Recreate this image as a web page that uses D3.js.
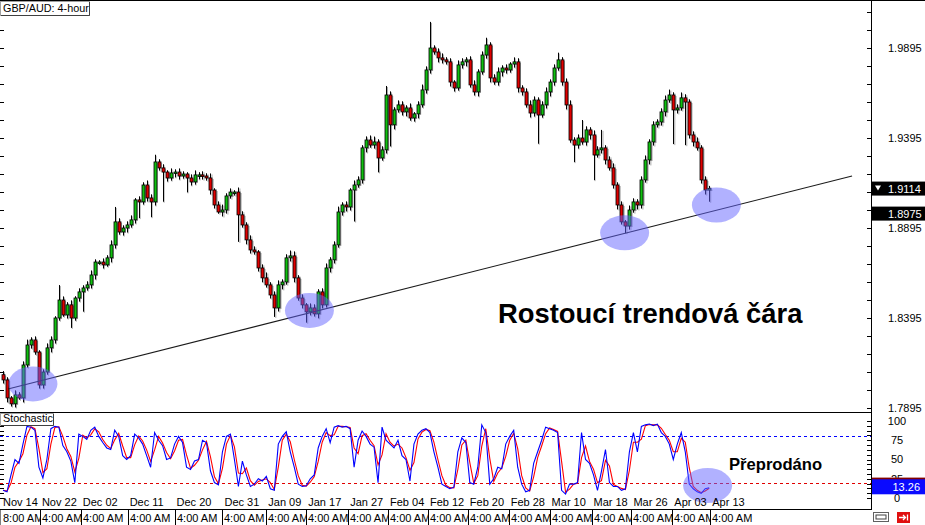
<!DOCTYPE html>
<html><head><meta charset="utf-8">
<script src="https://cdn.jsdelivr.net/npm/d3@7"></script>
<style>
body{margin:0;background:#fff;}
svg{display:block;font-family:"Liberation Sans",Arial,sans-serif;}
</style>
</head><body>
<svg id="c" width="925" height="525"></svg>
<script>
// ---------------- DATA ----------------
const title = "GBP/AUD: 4-hour";
const indicatorName = "Stochastic";
const firstOpen = 1.8080;
const closes = [
1.8051,1.7951,1.7918,1.7968,1.7951,1.8134,1.8245,1.8273,1.8206,1.8023,
1.8095,1.8229,1.8273,1.8395,1.8495,1.8412,1.8468,1.8395,1.8506,1.8540,
1.8562,1.8579,1.8634,1.8706,1.8706,1.8690,1.8729,1.8801,1.8929,1.8873,
1.8895,1.8912,1.8940,1.9051,1.9040,1.9134,1.9062,1.9040,1.9262,1.9229,
1.9206,1.9173,1.9201,1.9206,1.9184,1.9195,1.9173,1.9151,1.9190,1.9190,
1.9184,1.9173,1.9106,1.9023,1.8984,1.8995,1.9073,1.9095,1.9095,1.8968,
1.8912,1.8829,1.8773,1.8762,1.8673,1.8618,1.8579,1.8523,1.8451,1.8579,
1.8595,1.8729,1.8740,1.8618,1.8506,1.8468,1.8429,1.8451,1.8418,1.8540,
1.8468,1.8673,1.8718,1.8801,1.8984,1.9023,1.9012,1.9106,1.9134,1.9162,
1.9340,1.9384,1.9356,1.9373,1.9284,1.9329,1.9634,1.9468,1.9551,1.9579,
1.9540,1.9562,1.9506,1.9529,1.9579,1.9662,1.9773,1.9895,1.9873,1.9840,
1.9829,1.9818,1.9706,1.9673,1.9801,1.9818,1.9829,1.9690,1.9651,1.9762,
1.9856,1.9912,1.9729,1.9706,1.9762,1.9784,1.9773,1.9806,1.9818,1.9673,
1.9651,1.9579,1.9534,1.9606,1.9523,1.9579,1.9651,1.9706,1.9784,1.9829,
1.9706,1.9579,1.9384,1.9356,1.9395,1.9373,1.9440,1.9412,1.9301,1.9329,
1.9340,1.9273,1.9229,1.9134,1.9023,1.8929,1.8906,1.8995,1.9040,1.9023,
1.9162,1.9273,1.9373,1.9468,1.9484,1.9540,1.9606,1.9634,1.9551,1.9562,
1.9618,1.9595,1.9412,1.9373,1.9340,1.9162,1.9106,1.9114];
const wickUpPips = [
20,15,10,25,15,20,30,15,20,10, 15,25,20,10,83,20,15,25,10,20,
15,20,25,15,10,20,15,25,83,20, 15,20,25,10,20,15,25,20,40,15,
20,10,25,15,20,15,10,20,25,15, 20,15,25,10,20,30,15,20,10,25,
20,15,25,20,10,20,30,15,20,25, 15,20,30,25,15,20,10,25,20,15,
20,25,15,20,30,15,20,10,25,20, 15,20,25,30,15,20,50,20,15,25,
20,15,25,10,20,30,20,145,15,20, 25,15,20,10,25,20,15,20,25,15,
20,40,15,20,25,15,20,10,25,20, 15,20,25,20,15,20,25,15,20,40,
15,20,25,15,20,100,20,15,25,20, 100,15,20,25,15,20,10,25,20,15,
20,25,15,20,15,20,25,30,15,20, 30,20,15,20,25,15,20,15];
const wickDnPips = [
20,25,15,20,10,25,15,20,15,20, 20,15,25,20,15,10,20,55,15,20,
110,15,20,25,15,20,10,25,20,15, 20,25,15,20,90,15,20,85,20,15,
165,20,15,25,20,15,80,20,15,25, 20,15,25,20,10,25,20,15,20,150,
15,25,20,15,20,25,15,20,50,20, 25,15,20,25,15,20,60,20,15,25,
20,15,25,20,15,20,25,20,175,15, 20,25,15,20,80,15,20,120,25,15,
20,25,15,20,25,15,20,20,15,25, 20,15,25,20,15,20,25,15,20,25,
15,20,25,15,20,25,20,15,20,25, 20,15,25,20,160,15,20,25,20,15,
20,25,15,95,20,15,20,25,140,15, 20,25,15,20,25,15,40,20,15,25,
20,15,25,20,15,20,25,15,190,20, 15,240,20,25,15,20,25,65];
const stochK = [
10,8,30,50,45,70,93,92,88,40, 26,50,90,93,92,68,60,48,20,83,
80,76,88,92,80,72,65,63,88,80, 55,50,55,83,78,70,55,40,85,75,
68,50,52,70,80,72,40,37,48,50, 75,72,35,20,17,60,80,83,50,15,
48,30,15,18,25,22,28,12,10,70, 80,86,60,40,18,15,16,25,30,65,
80,90,72,92,94,92,93,90,40,75, 87,80,70,66,20,92,75,70,65,75,
55,50,22,70,83,88,90,85,60,40, 18,15,12,14,60,78,72,20,18,40,
95,85,18,25,40,38,70,80,88,40, 18,8,10,45,60,75,92,90,88,85,
10,5,18,18,20,85,50,45,30,10, 35,63,20,15,15,10,12,60,85,60,
93,95,96,94,96,85,80,70,50,70, 85,60,18,12,8,6,12,13.26];
const signalPeriod = 2;
const stochLevels = [80, 20];
const priceLabels = [1.7895, 1.8395, 1.8895, 1.9395, 1.9895];
const stochLabels = [100, 75, 50, 25, 0];
const dateLabels = ["Nov 14","Nov 22","Dec 02","Dec 11","Dec 20","Dec 31","Jan 09","Jan 17","Jan 27",
  "Feb 04","Feb 12","Feb 20","Feb 28","Mar 10","Mar 18","Mar 26","Apr 03","Apr 13"];
const timeLabels = ["8:00 AM","4:00 AM","4:00 AM","4:00 AM","4:00 AM","4:00 AM","4:00 AM","4:00 AM","4:00 AM",
  "4:00 AM","4:00 AM","4:00 AM","4:00 AM","4:00 AM","4:00 AM","4:00 AM","4:00 AM","4:00 AM"];
const dateTickIdx = [-0.5,9.25,19.5,31.25,43,55,66,76,86.5,96.5,106.5,116.5,126.75,137,147.5,157.5,167.75,177.25];
const trendLine = [{i:1.25, p:1.8001},{i:212.8, p:1.9184}];
const priceHighlights = [{i:7.5,p:1.8029},{i:76.8,p:1.8437},{i:155.8,p:1.8868},{i:178.8,p:1.9023}];
const stochHighlight = {i:176.6, v:16.2};
const bidPrice = 1.9114;
const markerPrice = 1.8975;
const stochLast = 13.26;
const trendText = "Rostoucí trendová čára";
const osText = "Přeprodáno";

// ---------------- LAYOUT ----------------
const W = 925, H = 525;
const plotR = 871;
const priceTop = 1, priceBot = 412;
const stochTop = 412, stochBot = 509;

const svg = d3.select("#c");
const n = Math.min(closes.length, wickUpPips.length, wickDnPips.length);
const x = d3.scaleLinear().domain([0, 178]).range([3, 713.2]);
const yP = d3.scaleLinear().domain([1.7895, 1.9895]).range([408, 48]);
const yS = d3.scaleLinear().domain([0, 100]).range([498, 421]);

const defs = svg.append("defs");
defs.append("clipPath").attr("id","cp").append("rect").attr("x",0).attr("y",priceTop).attr("width",plotR).attr("height",priceBot-priceTop);
defs.append("clipPath").attr("id","cs").append("rect").attr("x",0).attr("y",stochTop+1).attr("width",plotR).attr("height",stochBot-stochTop-1);

const candles = d3.range(n).map(i => {
  const o = i ? closes[i-1] : firstOpen, c = closes[i];
  return {i, o, c, h: Math.max(o,c) + wickUpPips[i]/10000, l: Math.min(o,c) - wickDnPips[i]/10000};
});

// price panel
const gp = svg.append("g").attr("clip-path","url(#cp)");
gp.selectAll(".sh").data(candles).join("g").attr("class","sh").each(function(d){
  const g = d3.select(this), cx = x(d.i) + 1.5;
  g.append("line").attr("x1",cx).attr("x2",cx).attr("y1",yP(d.h)+1).attr("y2",yP(d.l)+1).attr("stroke","#a8a8a8").attr("stroke-width",1);
  g.append("rect").attr("x",cx-1.5).attr("y",yP(Math.max(d.o,d.c))+1).attr("width",3.2)
    .attr("height",Math.max(1,Math.abs(yP(d.o)-yP(d.c)))).attr("fill","#a8a8a8");
});
gp.selectAll(".cd").data(candles).join("g").attr("class","cd").each(function(d){
  const g = d3.select(this), cx = Math.round(x(d.i)) + 0.5;
  g.append("line").attr("x1",cx).attr("x2",cx).attr("y1",yP(d.h)).attr("y2",yP(d.l)).attr("stroke","#000").attr("stroke-width",1);
  const top = yP(Math.max(d.o,d.c)), hh = Math.max(1.5, Math.abs(yP(d.o)-yP(d.c)));
  g.append("rect").attr("x",cx-1.5).attr("y",top).attr("width",3).attr("height",hh)
    .attr("fill", d.c >= d.o ? "#10c010" : "#e00000").attr("stroke","#000").attr("stroke-width",0.8);
});
gp.append("line").attr("x1",x(trendLine[0].i)).attr("y1",yP(trendLine[0].p))
  .attr("x2",x(trendLine[1].i)).attr("y2",yP(trendLine[1].p)).attr("stroke","#1a1a1a").attr("stroke-width",1.1);
gp.selectAll(".hl").data(priceHighlights).join("ellipse").attr("cx",d=>x(d.i)).attr("cy",d=>yP(d.p))
  .attr("rx",24.5).attr("ry",17.5).attr("fill","#6464ff").attr("fill-opacity",0.5);
const pTicks = d3.range(0, 24).map(k => 1.7895 + k*0.01).filter(v => yP(v) > 3 && yP(v) < priceBot-2);
svg.selectAll(".ptl").data(pTicks).join("line").attr("x1",0).attr("x2",4).attr("y1",d=>Math.round(yP(d))+0.5).attr("y2",d=>Math.round(yP(d))+0.5).attr("stroke","#000");
svg.selectAll(".ptr").data(pTicks).join("line").attr("x1",plotR-4).attr("x2",plotR).attr("y1",d=>Math.round(yP(d))+0.5).attr("y2",d=>Math.round(yP(d))+0.5).attr("stroke","#000");

svg.append("text").attr("x",498).attr("y",323).attr("font-size",27.4).attr("font-weight","bold").text(trendText);

// stochastic panel
const gs = svg.append("g").attr("clip-path","url(#cs)");
stochLevels.forEach((lv,k)=>{
  gs.append("line").attr("x1",0).attr("x2",plotR).attr("y1",Math.round(yS(lv))+0.5).attr("y2",Math.round(yS(lv))+0.5)
    .attr("stroke", k===0 ? "#0000ff" : "#e00000").attr("stroke-dasharray","3,3").attr("stroke-width",1);
});
const m = Math.min(stochK.length, n);
const kPts = d3.range(m).map(i => ({i, v: stochK[i]}));
const dPts = kPts.map((d,i) => ({i, v: d3.mean(stochK.slice(Math.max(0,i-signalPeriod+1), i+1))}));
const ln = d3.line().x(d=>x(d.i)).y(d=>yS(d.v));
gs.append("path").attr("d",ln(dPts)).attr("fill","none").attr("stroke","#ff0000").attr("stroke-width",1.1);
gs.append("path").attr("d",ln(kPts)).attr("fill","none").attr("stroke","#0000ff").attr("stroke-width",1.1);
gs.append("ellipse").attr("cx",x(stochHighlight.i)).attr("cy",yS(stochHighlight.v)).attr("rx",24.5).attr("ry",17.5)
  .attr("fill","#6464ff").attr("fill-opacity",0.5);
svg.append("text").attr("x",729).attr("y",470).attr("font-size",16.6).attr("font-weight","bold").text(osText);
const sTicks = d3.range(0,17).map(k=>k*6.25);
svg.selectAll(".stl").data(sTicks).join("line").attr("x1",0).attr("x2",4).attr("y1",d=>Math.round(yS(d))+0.5).attr("y2",d=>Math.round(yS(d))+0.5).attr("stroke","#000");
svg.selectAll(".str").data(sTicks).join("line").attr("x1",plotR-4).attr("x2",plotR).attr("y1",d=>Math.round(yS(d))+0.5).attr("y2",d=>Math.round(yS(d))+0.5).attr("stroke","#000");

// frame lines
svg.append("line").attr("x1",0).attr("x2",W).attr("y1",0.5).attr("y2",0.5).attr("stroke","#000");
svg.append("line").attr("x1",0).attr("x2",plotR).attr("y1",stochTop+0.5).attr("y2",stochTop+0.5).attr("stroke","#000");
svg.append("line").attr("x1",0).attr("x2",plotR).attr("y1",stochBot+0.5).attr("y2",stochBot+0.5).attr("stroke","#000");
svg.append("line").attr("x1",plotR+0.5).attr("x2",plotR+0.5).attr("y1",0).attr("y2",stochBot+1).attr("stroke","#000");

svg.selectAll(".pl").data(priceLabels).join("text").attr("x",888).attr("y",d=>yP(d)).attr("dy","0.36em")
  .attr("font-size",11).attr("fill","#000").text(d=>d.toFixed(4));
[[bidPrice,true],[markerPrice,false]].forEach(([p,tri])=>{
  const yy = yP(p);
  svg.append("rect").attr("x",plotR+1).attr("y",yy-7).attr("width",W-plotR-1).attr("height",14).attr("fill","#000");
  if (tri) svg.append("path").attr("d",`M${plotR+4},${yy-3}L${plotR+10},${yy-3}L${plotR+7},${yy+2}Z`).attr("fill","#fff");
  svg.append("text").attr("x",888).attr("y",yy).attr("dy","0.36em").attr("font-size",11).attr("fill","#fff").text(p.toFixed(4));
});
svg.selectAll(".sl").data(stochLabels).join("text").attr("x",897).attr("y",d=>yS(d)).attr("dy","0.36em")
  .attr("text-anchor","middle").attr("font-size",11).text(d=>d);
svg.append("rect").attr("x",plotR+1).attr("y",yS(20)-5).attr("width",W-plotR-1).attr("height",14).attr("fill","#800000");
svg.append("rect").attr("x",plotR+1).attr("y",yS(stochLast)-8.5).attr("width",W-plotR-1).attr("height",15).attr("fill","#0a0aff");
svg.append("text").attr("x",920).attr("y",yS(stochLast)-1).attr("dy","0.36em").attr("text-anchor","end")
  .attr("font-size",11).attr("fill","#fff").text(stochLast.toFixed(2));

svg.selectAll(".dl").data(dateLabels).join("text").attr("x",(d,k)=>x(dateTickIdx[k])+2).attr("y",506)
  .attr("font-size",11).text(d=>d);
svg.append("rect").attr("x",0).attr("y",stochBot+1).attr("width",plotR).attr("height",H-stochBot-1).attr("fill","#fff");
timeLabels.forEach((t,k)=>{
  const sx = k===0 ? 0 : Math.round(x(dateTickIdx[k]))+0.5;
  svg.append("rect").attr("x",sx).attr("y",stochBot+1).attr("width",46).attr("height",H-stochBot-1).attr("fill","#fff");
  svg.append("line").attr("x1",sx).attr("x2",sx).attr("y1",stochBot).attr("y2",H).attr("stroke","#000");
  svg.append("text").attr("x",k===0?3:sx+1.5).attr("y",522).attr("font-size",11).text(t);
});

function labelBox(tx, x0, y0, w, h, fs){
  svg.append("rect").attr("x",x0+0.5).attr("y",y0+0.5).attr("width",w).attr("height",h).attr("fill","#fff").attr("stroke","#a0a0a0");
  svg.append("path").attr("d",`M${x0+w+0.5},${y0+1}V${y0+h+0.5}H${x0+1}`).attr("fill","none").attr("stroke","#404040");
  svg.append("text").attr("x",x0+3).attr("y",y0+h-3).attr("font-size",fs).text(tx);
}
labelBox(title, 0, 1, 89, 14, 10.8);
labelBox(indicatorName, 0, 413, 53, 12, 10.8);

svg.append("rect").attr("x",873.5).attr("y",512.5).attr("width",15).attr("height",9).attr("fill","#fff").attr("stroke","#606060");
svg.append("rect").attr("x",876).attr("y",515).attr("width",10).attr("height",4).attr("fill","none").attr("stroke","#404040").attr("stroke-width",1);
svg.append("rect").attr("x",897).attr("y",512).attr("width",13).attr("height",11).attr("fill","#e01010");
svg.append("path").attr("d","M899,517.5H905M903,515L905.5,517.5L903,520M907.5,514.5V520.5").attr("stroke","#fff").attr("stroke-width",1.3).attr("fill","none");
</script>
</body></html>
